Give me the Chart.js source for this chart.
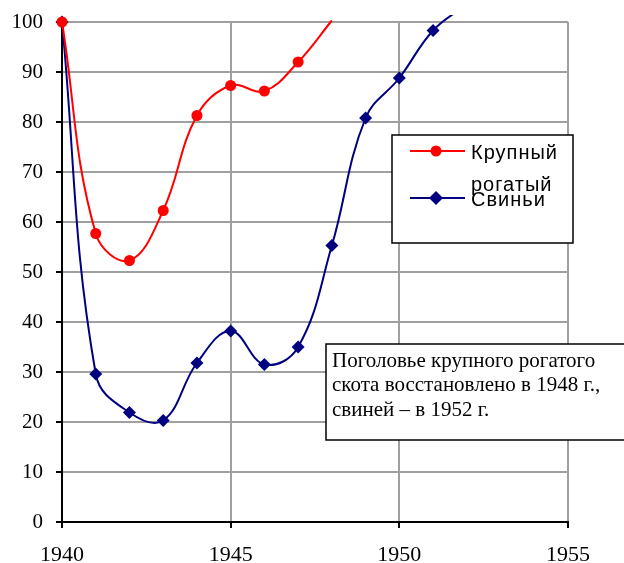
<!DOCTYPE html>
<html><head><meta charset="utf-8">
<script src="https://cdn.jsdelivr.net/npm/chart.js@4/dist/chart.umd.min.js"></script>
<style>html,body{margin:0;padding:0;background:#fff}</style>
</head><body>
<canvas id="c" width="624" height="563"></canvas>
<script>
const cattleYears = [1940,1941,1942,1943,1944,1945,1946,1947,1948];
const cattleValues = [100,57.7,52.3,62.3,81.3,87.3,86.2,92,100.3];
const pigYears = [1940,1941,1942,1943,1944,1945,1946,1947,1948,1949,1950,1951,1952];
const pigValues = [100,29.6,21.9,20.3,31.8,38.2,31.5,35,55.3,80.8,88.8,98.3,103.5];
const seriesNames = ['Крупный рогатый','Свиньи'];
const xTickValues = [1940,1945,1950,1955];
const yTickValues = [0,10,20,30,40,50,60,70,80,90,100];
const noteLines = ['Поголовье крупного рогатого','скота восстановлено в 1948 г.,','свиней – в 1952 г.'];

const toXY = (xs, ys) => xs.map((x,i)=>({x, y: ys[i]}));

const boxesPlugin = {
  id: 'boxes',
  afterDraw(chart) {
    const ctx = chart.ctx;
    ctx.save();
    // legend box
    ctx.fillStyle = '#fff';
    ctx.strokeStyle = '#000';
    ctx.lineWidth = 1.5;
    ctx.fillRect(392,135,181,108);
    ctx.strokeRect(392,135,181,108);
    const items = chart.data.datasets;
    const rows = [151, 198];
    items.forEach((ds, i) => {
      const y = rows[i];
      ctx.strokeStyle = ds.borderColor;
      ctx.lineWidth = 2;
      ctx.beginPath(); ctx.moveTo(410,y); ctx.lineTo(465,y); ctx.stroke();
      ctx.fillStyle = ds.backgroundColor;
      ctx.beginPath();
      if (i === 0) { ctx.arc(436,y,5.5,0,Math.PI*2); }
      else { ctx.moveTo(436,y-7); ctx.lineTo(443,y); ctx.lineTo(436,y+7); ctx.lineTo(429,y); ctx.closePath(); }
      ctx.fill();
      ctx.fillStyle = '#000';
      ctx.font = '20px "Liberation Sans", Arial, sans-serif';
      ctx.letterSpacing = '1px';
      ctx.textBaseline = 'alphabetic';
      ctx.textAlign = 'left';
      const words = ds.label.split(' ');
      words.forEach((w, k) => ctx.fillText(w, 471, y + 8 + k*32));
    });
    ctx.letterSpacing = '0px';
    // note box
    ctx.fillStyle = '#fff';
    ctx.fillRect(326,344,300,96);
    ctx.strokeStyle = '#000';
    ctx.lineWidth = 1.5;
    ctx.strokeRect(326,344,300,96);
    ctx.fillStyle = '#000';
    ctx.font = '21px "Liberation Serif", "Times New Roman", serif';
    ctx.textBaseline = 'middle';
    noteLines.forEach((t, k) => ctx.fillText(t, 332, 361 + k*24.5));
    ctx.restore();
  }
};

new Chart(document.getElementById('c'), {
  type: 'line',
  data: {
    datasets: [
      {
        label: seriesNames[0],
        data: toXY(cattleYears, cattleValues),
        borderColor: '#ff0000', backgroundColor: '#ff0000',
        borderWidth: 2, tension: 0.4,
        pointStyle: 'circle',
        pointRadius: cattleYears.map((_, i) => i === cattleYears.length - 1 ? 0 : 5.5),
        pointBorderWidth: 0,
        clip: {left: 10, top: 8, right: 0, bottom: 0}
      },
      {
        label: seriesNames[1],
        data: toXY(pigYears, pigValues),
        borderColor: '#000080', backgroundColor: '#000080',
        borderWidth: 2, tension: 0.4,
        pointStyle: 'rectRot', pointRadius: 6.5, pointBorderWidth: 0,
        clip: {left: 10, top: 7, right: 0, bottom: 0}
      }
    ]
  },
  options: {
    responsive: false,
    animation: false,
    events: [],
    layout: { padding: { top: 22, right: 56, left: 0, bottom: 0 } },
    plugins: { legend: { display: false }, tooltip: { enabled: false } },
    scales: {
      x: {
        type: 'linear',
        min: xTickValues[0], max: xTickValues[xTickValues.length-1],
        afterFit(s) { s.height = 41; s.paddingLeft = 0; s.paddingRight = 0; },
        afterBuildTicks(s) { s.ticks = xTickValues.map(v => ({value: v})); },
        ticks: {
          color: '#000', padding: 14,
          font: { family: '"Liberation Serif", "Times New Roman", serif', size: 22 },
          callback: v => String(v), maxRotation: 0
        },
        grid: { color: '#a0a0a0', lineWidth: 2, tickColor: '#000', tickLength: 6 },
        border: { color: '#000', width: 2 }
      },
      y: {
        min: 0, max: 100,
        afterFit(s) { s.width = 62; s.paddingTop = 0; s.paddingBottom = 0; },
        afterBuildTicks(s) { s.ticks = yTickValues.map(v => ({value: v})); },
        ticks: {
          color: '#000', padding: 13,
          font: { family: '"Liberation Serif", "Times New Roman", serif', size: 21 },
          callback: v => String(v)
        },
        grid: { color: '#a0a0a0', lineWidth: 2, tickColor: '#000', tickLength: 6 },
        border: { color: '#000', width: 2 }
      }
    }
  },
  plugins: [boxesPlugin]
});
</script>
</body></html>
